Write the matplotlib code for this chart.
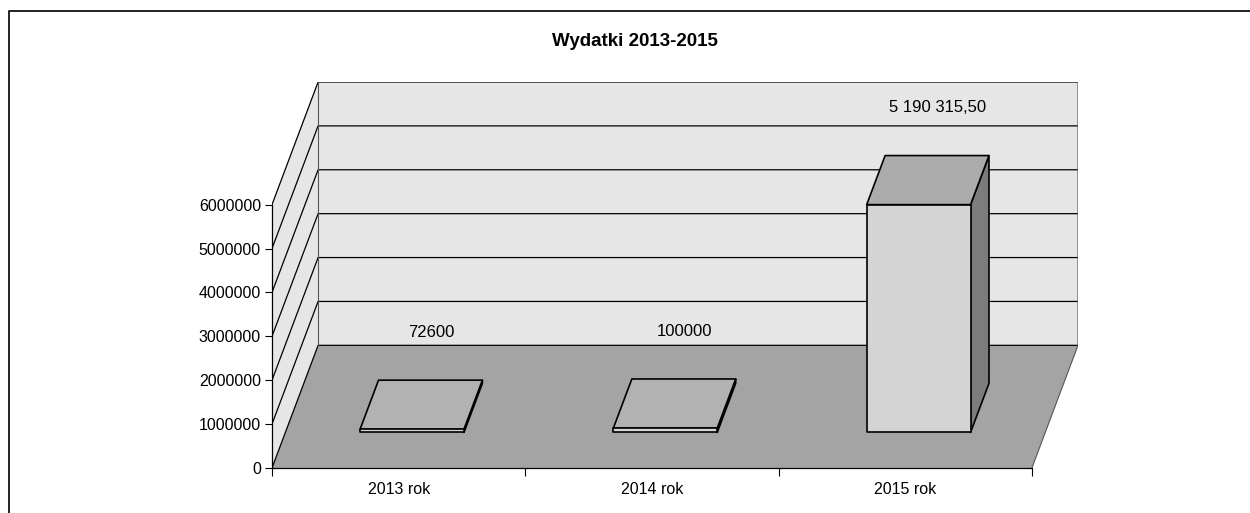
import matplotlib
matplotlib.use("Agg")
import matplotlib.pyplot as plt
from matplotlib.patches import Polygon
from matplotlib.lines import Line2D

# ---- data ----
categories = ["2013 rok", "2014 rok", "2015 rok"]
values = [72600, 100000, 5190315.50]
value_labels = ["72600", "100000", "5 190 315,50"]
title = "Wydatki 2013-2015"
y_ticks = [0, 1000000, 2000000, 3000000, 4000000, 5000000, 6000000]

# ---- style / oblique projection ----
YMAX = 6000000
DX = 0.182          # depth shift along x (category units)
DZ = 2.795e6        # depth shift along y (value units)
BAR_W = 0.41
D0, D1 = 0.29, 0.69  # bar depth range (fraction of full depth)
WALL = "#e6e6e6"
FLOOR = "#a4a4a4"
FRONT = "#d4d4d4"
TOP = "#acacac"
SIDE = "#7c7c7c"
FLAT_TOP = "#b2b2b2"

plt.rcParams["font.family"] = ["Liberation Sans", "DejaVu Sans"]

fig = plt.figure(figsize=(12.5, 5.13), dpi=100)
ax = fig.add_axes([272 / 1250, (513 - 468) / 513, (1078 - 272) / 1250, (468 - 82) / 513])
n = len(categories)
ax.set_xlim(0, n + DX)
ax.set_ylim(0, YMAX + DZ)
ax.patch.set_alpha(0)


def P(x, z, d):
    return (x + d * DX, z + d * DZ)


# floor
ax.add_patch(Polygon([P(0, 0, 0), P(n, 0, 0), P(n, 0, 1), P(0, 0, 1)],
                     closed=True, facecolor=FLOOR, edgecolor="none", zorder=1))
# left wall
ax.add_patch(Polygon([P(0, 0, 0), P(0, YMAX, 0), P(0, YMAX, 1), P(0, 0, 1)],
                     closed=True, facecolor=WALL, edgecolor="none", zorder=1))
# back wall
ax.add_patch(Polygon([P(0, 0, 1), P(n, 0, 1), P(n, YMAX, 1), P(0, YMAX, 1)],
                     closed=True, facecolor=WALL, edgecolor="none", zorder=1))

# gridlines on walls
for t in y_ticks:
    xs, ys = zip(P(0, t, 0), P(0, t, 1), P(n, t, 1))
    ax.add_line(Line2D(xs, ys, color="black", lw=0.9, zorder=2))
# wall outlines
xs, ys = zip(P(n, 0, 0), P(n, 0, 1), P(n, YMAX, 1))
ax.add_line(Line2D(xs, ys, color="#555555", lw=0.8, zorder=2))
xs, ys = zip(P(0, 0, 1), P(0, YMAX, 1))
ax.add_line(Line2D(xs, ys, color="#555555", lw=0.8, zorder=2))

# bars
for i, v in enumerate(values):
    cx = i + 0.5
    x0, x1 = cx - BAR_W / 2, cx + BAR_W / 2
    kw = dict(closed=True, edgecolor="black", lw=1.2, zorder=3, joinstyle="round")
    top_col = TOP if v > 0.05 * YMAX else FLAT_TOP
    ax.add_patch(Polygon([P(x1, 0, D0), P(x1, 0, D1), P(x1, v, D1), P(x1, v, D0)],
                         facecolor=SIDE, **kw))
    ax.add_patch(Polygon([P(x0, v, D0), P(x1, v, D0), P(x1, v, D1), P(x0, v, D1)],
                         facecolor=top_col, **kw))
    ax.add_patch(Polygon([P(x0, 0, D0), P(x1, 0, D0), P(x1, v, D0), P(x0, v, D0)],
                         facecolor=FRONT, **kw))
    lx, ly = P(cx, v, 1.0)
    ax.annotate(value_labels[i], (lx, ly), xytext=(-10, 7), textcoords="offset points",
                ha="center", va="center", fontsize=12, zorder=5)

# axes: only front-left and front-bottom
for s in ["top", "right"]:
    ax.spines[s].set_visible(False)
ax.spines["left"].set_bounds(0, YMAX)
ax.spines["bottom"].set_bounds(0, n)
for s in ["left", "bottom"]:
    ax.spines[s].set_linewidth(0.9)
    ax.spines[s].set_zorder(4)
ax.set_yticks(y_ticks)
ax.set_yticklabels([str(t) for t in y_ticks], fontsize=11.5)
ax.set_xticks(range(n + 1))
ax.set_xticklabels([""] * (n + 1))
ax.set_xticks([i + 0.5 for i in range(n)], minor=True)
ax.set_xticklabels(categories, minor=True, fontsize=11.5)
ax.tick_params(axis="x", which="minor", length=0, pad=10)
ax.tick_params(axis="x", which="major", length=6, direction="out")
ax.tick_params(axis="y", length=5, direction="out", pad=3)

fig.text((545 + 725) / 2 / 1250, 1 - 42 / 513, title, ha="center", va="center",
         fontsize=13.5, fontweight="bold")

# outer frame (top and left only)
fig.add_artist(Line2D([9 / 1250, 9 / 1250, 1.0], [0.0, 1 - 11 / 513, 1 - 11 / 513],
                      color="black", lw=1.2, transform=fig.transFigure))

fig.savefig("out.png", dpi=100)
